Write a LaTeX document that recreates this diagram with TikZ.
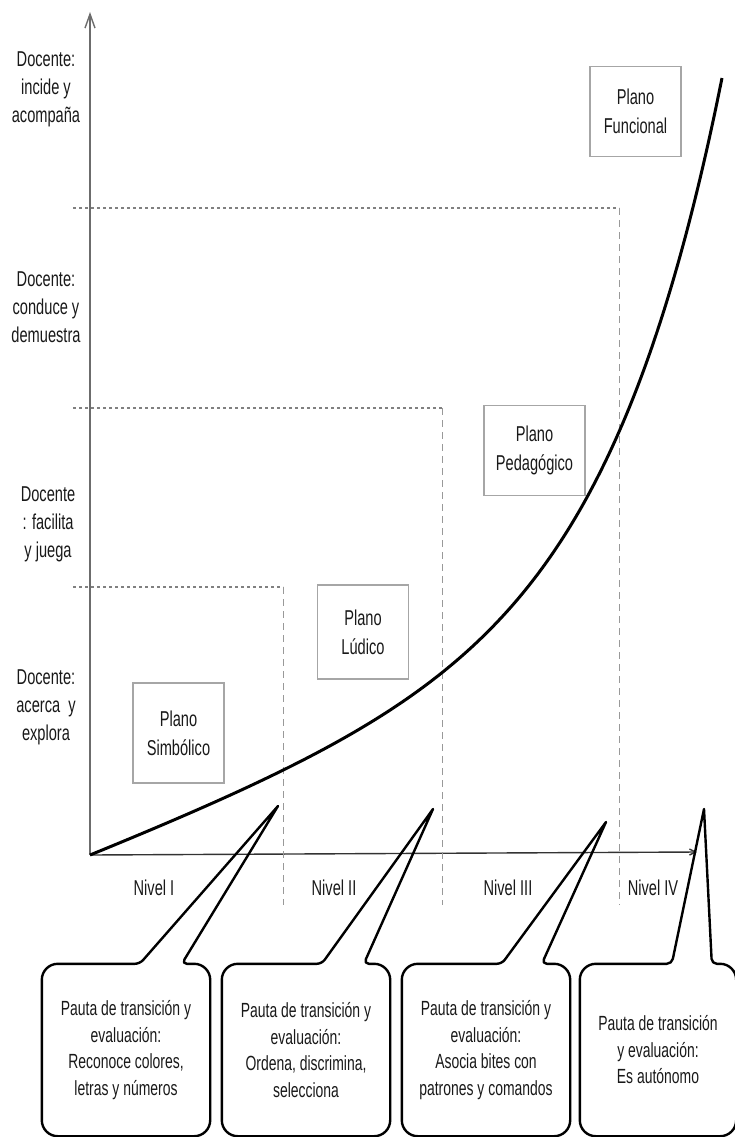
\documentclass[tikz,border=0pt]{standalone}
\usepackage{fontspec}
\setmainfont{Liberation Sans}
\newfontfamily\narrowsans{Liberation Sans}[FakeStretch=0.68]
\usetikzlibrary{arrows.meta}

\begin{document}
\begin{tikzpicture}[
    x=1pt, y=-1pt,
    docente/.style={
        font=\narrowsans\fontsize{21.5}{28}\selectfont,
        text=black!90,
        align=center
    },
    nivel/.style={
        font=\narrowsans\fontsize{21.5}{28}\selectfont,
        text=black!90
    },
    plano/.style={
        rectangle,
        draw=gray!70,
        line width=1.2pt,
        minimum width=91pt,
        minimum height=90pt,
        font=\narrowsans\fontsize{21.5}{29}\selectfont,
        text=black!90,
        align=center
    },
    pauta/.style={
        rectangle,
        minimum width=168pt,
        minimum height=172pt,
        font=\narrowsans\fontsize{20.5}{26.5}\selectfont,
        text=black!90,
        align=center
    },
    globo/.style={draw=black, line width=2.4pt, line join=round},
    eje/.style={line width=1.4pt},
    guia/.style={gray, line width=2pt, dash pattern=on 2.5pt off 3.5pt},
    corte/.style={gray!80, line width=1pt, dash pattern=on 7pt off 5pt},
    curva/.style={line width=3pt, black}
]
\useasboundingbox (0,0) rectangle (735,1137);

% ejes
\coordinate (o) at (90,855);
\coordinate (ytop) at (90,12);
\coordinate (xend) at (697,852);
\draw[eje, gray!85!black, -{Straight Barb[length=14pt,width=10pt]}] (o) -- (ytop);
\draw[eje, black!80, -{Straight Barb[length=6pt,width=6pt]}] (o) -- (xend);

% planos por nivel
\foreach \y/\x in {208/619, 408/442, 587/283} {
    \draw[guia] (73,\y) -- (\x,\y);
    \draw[corte] (\x,\y) -- (\x,905);
}

\node[docente] (d4) at (46,89) {Docente:\\incide y\\acompaña};
\node[docente] (d3) at (46,307) {Docente:\\conduce y\\demuestra};
\node[docente] (d2) at (48,524) {Docente\\: facilita\\y juega};
\node[docente] (d1) at (46,707) {Docente:\\acerca~ y\\explora};

\node[plano, minimum height=100pt] (simbolico) at (178.5,733) {Plano\\Simbólico};
\node[plano, minimum height=94pt] (ludico) at (363,632) {Plano\\Lúdico};
\node[plano, minimum width=101pt] (pedagogico) at (534.5,450.5) {Plano\\Pedagógico};
\node[plano] (funcional) at (635.5,111.5) {Plano\\Funcional};

% curva de progreso
\draw[curva] plot[domain=0:632, samples=90, smooth]
    ({90+\x}, {855-(2.319*(exp(0.0086*\x)-1)+0.3884*\x)});

\node[nivel] (n1) at (154,888) {Nivel I};
\node[nivel] (n2) at (334,888) {Nivel II};
\node[nivel] (n3) at (508,888) {Nivel III};
\node[nivel] (n4) at (653,888) {Nivel IV};

% pautas
\node[pauta] (p1) at (126,1050) {Pauta de transición y\\evaluación:\\Reconoce colores,\\letras y números};
\node[pauta] (p2) at (306,1050) {Pauta de transición y\\evaluación:\\Ordena, discrimina,\\selecciona};
\node[pauta] (p3) at (486,1050) {Pauta de transición y\\evaluación:\\Asocia bites con\\patrones y comandos};
\node[pauta, minimum width=156pt] (p4) at (658,1050) {Pauta de transición\\y evaluación:\\Es autónomo};

\coordinate (t1) at (278,806);
\coordinate (t2) at (433,809);
\coordinate (t3) at (606,822);
\coordinate (t4) at (704,809);

\draw[globo] (t1) [rounded corners=5pt] -- ([xshift=98pt]p1.north west) [rounded corners=16pt] -- (p1.north west) -- (p1.south west) -- (p1.south east) -- (p1.north east) [rounded corners=5pt] -- ([xshift=140pt]p1.north west) [sharp corners] -- cycle;
\draw[globo] (t2) [rounded corners=5pt] -- ([xshift=100pt]p2.north west) [rounded corners=16pt] -- (p2.north west) -- (p2.south west) -- (p2.south east) -- (p2.north east) [rounded corners=5pt] -- ([xshift=142pt]p2.north west) [sharp corners] -- cycle;
\draw[globo] (t3) [rounded corners=5pt] -- ([xshift=100pt]p3.north west) [rounded corners=16pt] -- (p3.north west) -- (p3.south west) -- (p3.south east) -- (p3.north east) [rounded corners=5pt] -- ([xshift=140pt]p3.north west) [sharp corners] -- cycle;
\draw[globo] (t4) [rounded corners=5pt] -- ([xshift=92pt]p4.north west) [rounded corners=16pt] -- (p4.north west) -- (p4.south west) -- (p4.south east) -- (p4.north east) [rounded corners=5pt] -- ([xshift=132pt]p4.north west) [sharp corners] -- cycle;

\end{tikzpicture}
\end{document}
